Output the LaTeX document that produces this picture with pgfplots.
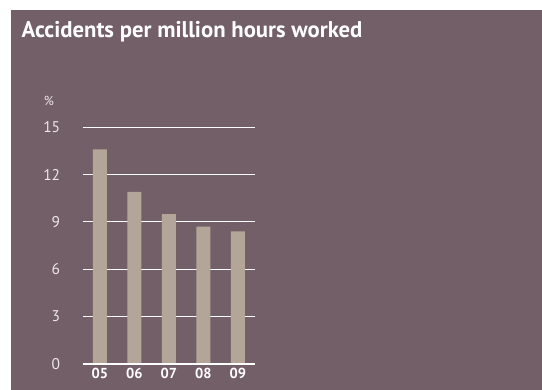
\documentclass[border=0pt]{standalone}
\usepackage{fontspec}
\setmainfont{PT Sans}
\usepackage{pgfplots}
\pgfplotsset{compat=1.18}
\definecolor{panel}{HTML}{735F68}
\definecolor{barc}{HTML}{B3A698}
\definecolor{ticktxt}{HTML}{EDE6EA}
\begin{document}
\begin{tikzpicture}[x=1pt,y=1pt]
\useasboundingbox (0,0) rectangle (542,-390);
\fill[white] (0,0) rectangle (542,-390);
\fill[panel] (11,-10) rectangle (542,-390);
\node[anchor=base west, text=white, font=\fontsize{22.7}{26}\selectfont\bfseries, inner sep=0] at (21.5,-37.7) {Accidents per million hours worked};
\node[text=ticktxt, font=\fontsize{13}{15}\selectfont, inner sep=0] at (49,-101) {\%};
\begin{axis}[
  at={(82.7pt,-364pt)}, anchor=south west,
  scale only axis, width=172.3pt, height=236.7pt,
  xmin=-0.5, xmax=4.5, ymin=0, ymax=15,
  axis line style={draw=none},
  ytick={0,3,6,9,12,15},
  xtick={0,1,2,3,4},
  xticklabels={05,06,07,08,09},
  major tick length=0pt,
  ymajorgrids, grid style={white, line width=1pt},
  yticklabel style={text=ticktxt, font=\fontsize{15.5}{17}\selectfont, anchor=east, xshift=-19pt},
  xticklabel style={text=white, font=\fontsize{14.5}{17}\selectfont\bfseries, yshift=-1pt},
  /pgf/number format/assume math mode=true,
  clip=false,
]
\addplot[ybar, bar width=14pt, fill=barc, draw=none] coordinates {(0,13.6) (1,10.9) (2,9.5) (3,8.7) (4,8.4)};
\draw[white, line width=2pt] (axis cs:-0.5,0) -- (axis cs:4.5,0);
\end{axis}
\end{tikzpicture}
\end{document}
